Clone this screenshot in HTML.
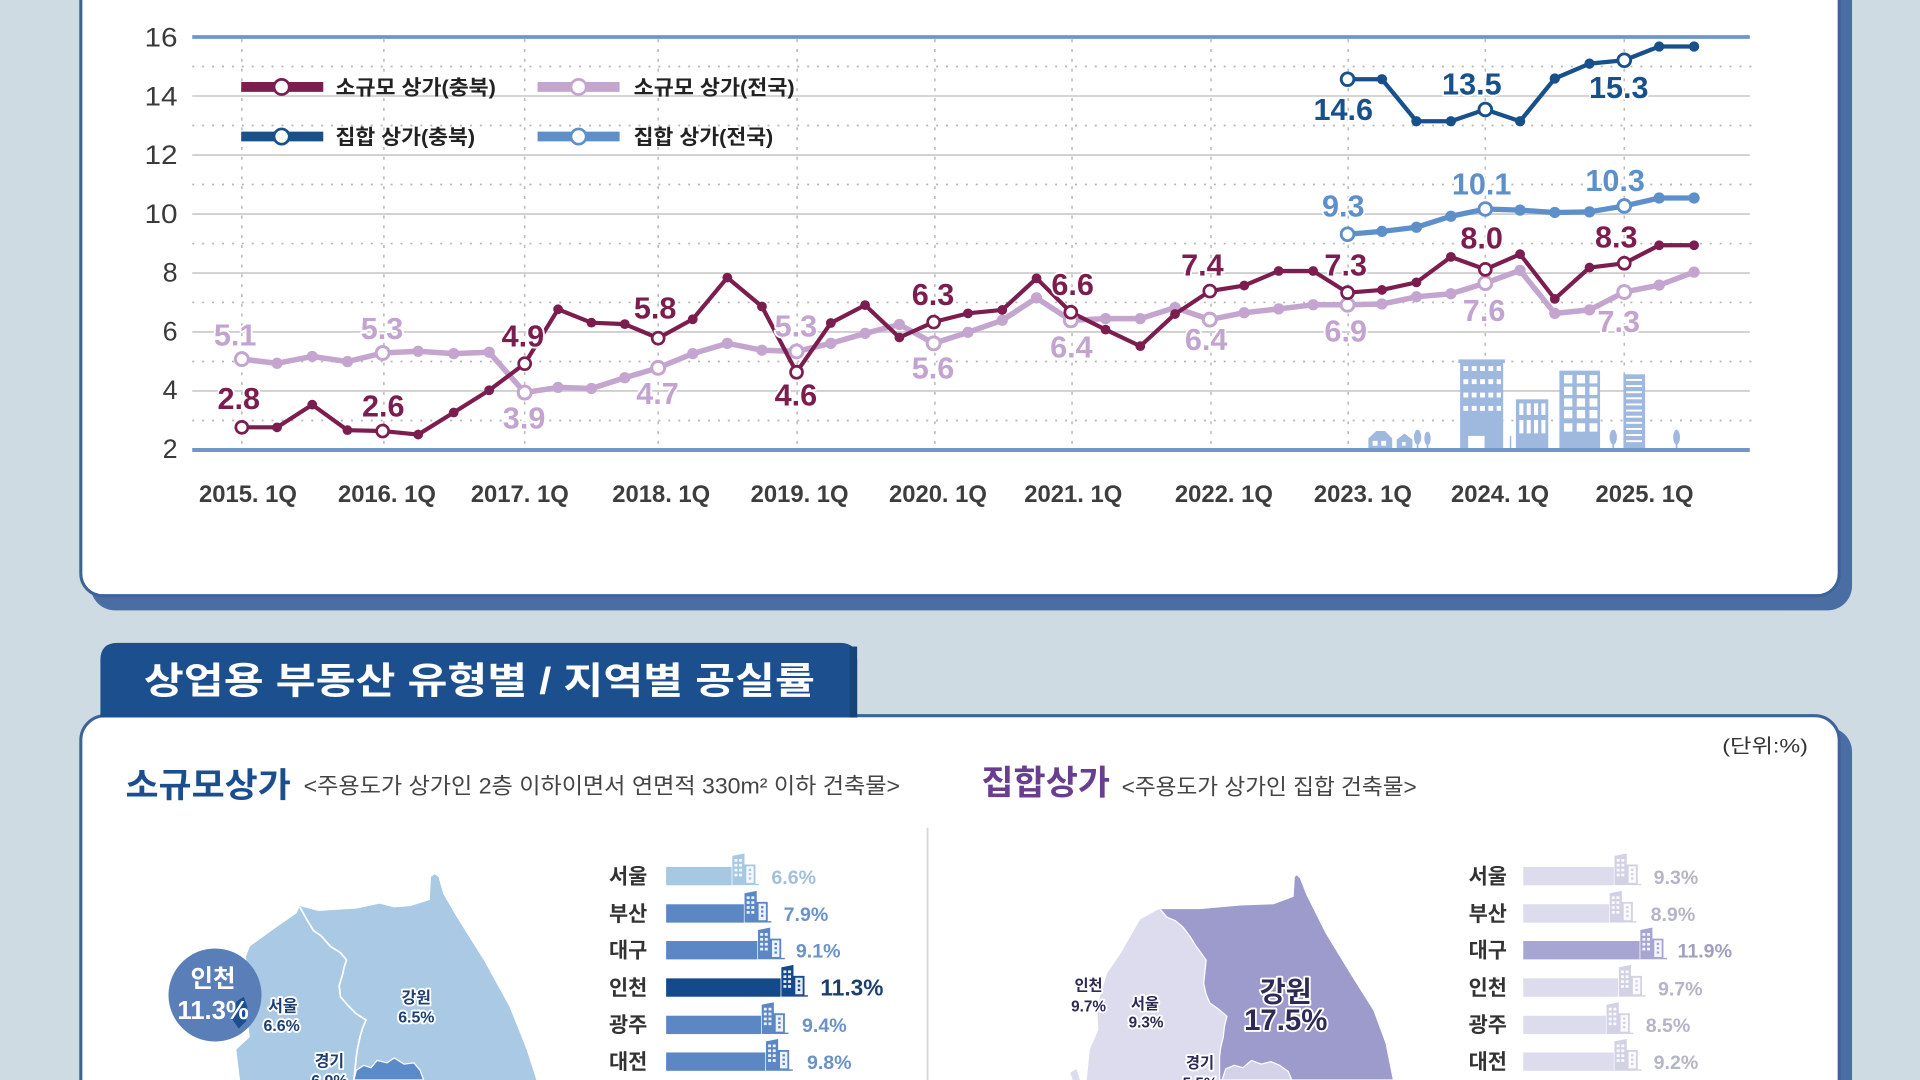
<!DOCTYPE html>
<html>
<head>
<meta charset="utf-8">
<style>
html,body{margin:0;padding:0;background:#cfdbe3;width:1920px;height:1080px;overflow:hidden;}
svg{display:block}
text{font-family:"Liberation Sans","Noto Sans CJK KR",sans-serif;}
.b{font-weight:bold}
.halo{paint-order:stroke;stroke:#fff;stroke-width:3;stroke-linejoin:round}
</style>
</head>
<body>
<svg width="1920" height="1080" viewBox="0 0 1568 882" xmlns="http://www.w3.org/2000/svg">
<defs>
  <marker id="mM" markerUnits="userSpaceOnUse" markerWidth="12" markerHeight="12" refX="6" refY="6" viewBox="0 0 12 12"><circle cx="6" cy="6" r="4" fill="#7b1d4e"/></marker>
  <marker id="mL" markerUnits="userSpaceOnUse" markerWidth="12" markerHeight="12" refX="6" refY="6" viewBox="0 0 12 12"><circle cx="6" cy="6" r="4.6" fill="#c3a5cf"/></marker>
  <marker id="mD" markerUnits="userSpaceOnUse" markerWidth="12" markerHeight="12" refX="6" refY="6" viewBox="0 0 12 12"><circle cx="6" cy="6" r="4.2" fill="#17508a"/></marker>
  <marker id="mB" markerUnits="userSpaceOnUse" markerWidth="12" markerHeight="12" refX="6" refY="6" viewBox="0 0 12 12"><circle cx="6" cy="6" r="4.6" fill="#5d8fca"/></marker>
  <symbol id="bld" viewBox="0 0 22 26">
    <path fill="currentColor" d="M0,2 L10,0 L10,26 L0,26Z M10,9 H19 V26 H10Z M0,24.8 H22 V26 H0Z"/>
    <g fill="#fff" opacity="0.9">
      <rect x="1.8" y="4.5" width="2.4" height="2.2"/><rect x="5.6" y="4.5" width="2.4" height="2.2"/>
      <rect x="1.8" y="8.5" width="2.4" height="2.2"/><rect x="5.6" y="8.5" width="2.4" height="2.2"/>
      <rect x="1.8" y="12.5" width="2.4" height="2.2"/><rect x="5.6" y="12.5" width="2.4" height="2.2"/>
      <rect x="1.8" y="16.5" width="2.4" height="2.2"/><rect x="5.6" y="16.5" width="2.4" height="2.2"/>
      <rect x="11.5" y="10.5" width="6" height="13.5"/>
    </g>
    <g fill="currentColor">
      <rect x="13.5" y="12.5" width="2" height="1.8"/><rect x="13.5" y="16" width="2" height="1.8"/><rect x="13.5" y="19.5" width="2" height="1.8"/>
    </g>
  </symbol>
</defs>

<!-- background -->
<rect x="0" y="0" width="1568" height="882" fill="#cfdbe3"/>

<!-- top card -->
<rect x="74" y="-30" width="1438.5" height="528.5" rx="20" fill="#4a6ea3"/>
<rect x="66" y="-30" width="1436" height="516.5" rx="18" fill="#fff" stroke="#3d6399" stroke-width="2.5"/>

<!-- gridlines -->
<g stroke="#cfcfcf" stroke-width="1.5">
  <line x1="157" y1="78.4" x2="1429" y2="78.4"/>
  <line x1="157" y1="126.6" x2="1429" y2="126.6"/>
  <line x1="157" y1="174.8" x2="1429" y2="174.8"/>
  <line x1="157" y1="223" x2="1429" y2="223"/>
  <line x1="157" y1="271.1" x2="1429" y2="271.1"/>
  <line x1="157" y1="319.3" x2="1429" y2="319.3"/>
</g>
<g stroke="#b5b5b5" stroke-width="1.4" stroke-dasharray="1.6 6.5">
  <line x1="157" y1="54.3" x2="1432" y2="54.3"/>
  <line x1="157" y1="102.5" x2="1432" y2="102.5"/>
  <line x1="157" y1="150.7" x2="1432" y2="150.7"/>
  <line x1="157" y1="198.9" x2="1432" y2="198.9"/>
  <line x1="157" y1="247" x2="1432" y2="247"/>
  <line x1="157" y1="295.2" x2="1432" y2="295.2"/>
  <line x1="157" y1="343.4" x2="1432" y2="343.4"/>
</g>
<g stroke="#bdbdbd" stroke-width="1.3" stroke-dasharray="2.5 5.5">
  <line x1="197.5" y1="32" x2="197.5" y2="366"/>
  <line x1="313.5" y1="32" x2="313.5" y2="366"/>
  <line x1="428.5" y1="32" x2="428.5" y2="366"/>
  <line x1="537.5" y1="32" x2="537.5" y2="366"/>
  <line x1="651" y1="32" x2="651" y2="366"/>
  <line x1="763.5" y1="32" x2="763.5" y2="366"/>
  <line x1="875.5" y1="32" x2="875.5" y2="366"/>
  <line x1="989" y1="32" x2="989" y2="366"/>
  <line x1="1101" y1="32" x2="1101" y2="366"/>
  <line x1="1213" y1="32" x2="1213" y2="366"/>
  <line x1="1326.5" y1="32" x2="1326.5" y2="366"/>
</g>

<!-- city silhouette -->
<g fill="#9fb8dd">
  <rect x="1192.4" y="296" width="35.2" height="72"/>
  <rect x="1191" y="293.5" width="38" height="3"/>
  <rect x="1238" y="326.1" width="26.4" height="42"/>
  <rect x="1273.5" y="302.7" width="33.2" height="65"/>
  <rect x="1325.8" y="305.7" width="17.7" height="62"/>
  <path d="M1117.5,367 V358 L1124,352 L1131,352 L1137,358 V367Z"/>
  <path d="M1140.6,367 V359 L1147,354 L1153.5,359 V367Z"/>
  <ellipse cx="1157.7" cy="357" rx="3" ry="6"/><rect x="1157" y="360" width="1.4" height="7"/>
  <ellipse cx="1165.8" cy="358" rx="2.6" ry="5.5"/><rect x="1165.1" y="361" width="1.4" height="6"/>
  <ellipse cx="1317.5" cy="357" rx="3" ry="6"/><rect x="1316.8" y="360" width="1.4" height="7"/>
  <ellipse cx="1369.2" cy="357" rx="2.8" ry="6"/><rect x="1368.5" y="360" width="1.4" height="7"/>
  <rect x="1233" y="356" width="1.2" height="11"/>
</g>
<g fill="#fff">
  <rect x="1195.1" y="299" width="4" height="4"/><rect x="1201.9" y="299" width="4" height="4"/><rect x="1208.7" y="299" width="4" height="4"/><rect x="1215.5" y="299" width="4" height="4"/><rect x="1222.3" y="299" width="3.5" height="4"/>
  <rect x="1195.1" y="309.7" width="4" height="4"/><rect x="1201.9" y="309.7" width="4" height="4"/><rect x="1208.7" y="309.7" width="4" height="4"/><rect x="1215.5" y="309.7" width="4" height="4"/><rect x="1222.3" y="309.7" width="3.5" height="4"/>
  <rect x="1195.1" y="320.6" width="4" height="4"/><rect x="1201.9" y="320.6" width="4" height="4"/><rect x="1208.7" y="320.6" width="4" height="4"/><rect x="1215.5" y="320.6" width="4" height="4"/><rect x="1222.3" y="320.6" width="3.5" height="4"/>
  <rect x="1195.1" y="331.5" width="4" height="4"/><rect x="1201.9" y="331.5" width="4" height="4"/><rect x="1208.7" y="331.5" width="4" height="4"/><rect x="1215.5" y="331.5" width="4" height="4"/><rect x="1222.3" y="331.5" width="3.5" height="4"/>
  <rect x="1199" y="356" width="13.4" height="11.5"/>
  <rect x="1240.8" y="329.4" width="3.3" height="9.5"/><rect x="1246.8" y="329.4" width="3.3" height="9.5"/><rect x="1252.8" y="329.4" width="3.3" height="9.5"/><rect x="1258.8" y="329.4" width="3.3" height="9.5"/>
  <rect x="1240.8" y="343" width="3.3" height="10.9"/><rect x="1246.8" y="343" width="3.3" height="10.9"/><rect x="1252.8" y="343" width="3.3" height="10.9"/><rect x="1258.8" y="343" width="3.3" height="10.9"/>
  <rect x="1277.3" y="306.3" width="6.8" height="6.8"/><rect x="1287.7" y="306.3" width="6.8" height="6.8"/><rect x="1298.1" y="306.3" width="6.4" height="6.8"/>
  <rect x="1277.3" y="315.8" width="6.8" height="6.8"/><rect x="1287.7" y="315.8" width="6.8" height="6.8"/><rect x="1298.1" y="315.8" width="6.4" height="6.8"/>
  <rect x="1277.3" y="325.3" width="6.8" height="6.8"/><rect x="1287.7" y="325.3" width="6.8" height="6.8"/><rect x="1298.1" y="325.3" width="6.4" height="6.8"/>
  <rect x="1277.3" y="334.8" width="6.8" height="6.8"/><rect x="1287.7" y="334.8" width="6.8" height="6.8"/><rect x="1298.1" y="334.8" width="6.4" height="6.8"/>
  <rect x="1277.3" y="345.7" width="6.8" height="6.8"/><rect x="1287.7" y="345.7" width="6.8" height="6.8"/><rect x="1298.1" y="345.7" width="6.4" height="6.8"/>
  <rect x="1328" y="309.5" width="13" height="1.6"/><rect x="1328" y="314.5" width="13" height="1.6"/><rect x="1328" y="319.5" width="13" height="1.6"/><rect x="1328" y="324.5" width="13" height="1.6"/><rect x="1328" y="329.5" width="13" height="1.6"/><rect x="1328" y="334.5" width="13" height="1.6"/><rect x="1328" y="339.5" width="13" height="1.6"/><rect x="1328" y="344.5" width="13" height="1.6"/><rect x="1328" y="349.5" width="13" height="1.6"/><rect x="1328" y="354.5" width="13" height="1.6"/><rect x="1328" y="359.5" width="13" height="1.6"/>
  <rect x="1121" y="360" width="4" height="4"/><rect x="1128" y="360" width="4" height="4"/><rect x="1145" y="361" width="3" height="3"/>
</g>

<!-- top & bottom axis lines -->
<line x1="157" y1="30.2" x2="1429" y2="30.2" stroke="#6f96c9" stroke-width="3"/>
<line x1="157" y1="367.5" x2="1429" y2="367.5" stroke="#6f96c9" stroke-width="3.2"/>

<!-- y labels -->
<g fill="#3a3a3a" font-size="22" text-anchor="end">
  <text x="145" y="38" textLength="27" lengthAdjust="spacingAndGlyphs">16</text>
  <text x="145" y="86" textLength="27" lengthAdjust="spacingAndGlyphs">14</text>
  <text x="145" y="134" textLength="27" lengthAdjust="spacingAndGlyphs">12</text>
  <text x="145" y="182" textLength="27" lengthAdjust="spacingAndGlyphs">10</text>
  <text x="145" y="230">8</text>
  <text x="145" y="278">6</text>
  <text x="145" y="326">4</text>
  <text x="145" y="374">2</text>
</g>

<!-- x labels -->
<g fill="#3d3d3d" font-size="20" class="b" text-anchor="middle">
  <text x="202.5" y="410" textLength="80" lengthAdjust="spacingAndGlyphs">2015. 1Q</text>
  <text x="316" y="410" textLength="80" lengthAdjust="spacingAndGlyphs">2016. 1Q</text>
  <text x="424.5" y="410" textLength="80" lengthAdjust="spacingAndGlyphs">2017. 1Q</text>
  <text x="540" y="410" textLength="80" lengthAdjust="spacingAndGlyphs">2018. 1Q</text>
  <text x="653" y="410" textLength="80" lengthAdjust="spacingAndGlyphs">2019. 1Q</text>
  <text x="766" y="410" textLength="80" lengthAdjust="spacingAndGlyphs">2020. 1Q</text>
  <text x="876.5" y="410" textLength="80" lengthAdjust="spacingAndGlyphs">2021. 1Q</text>
  <text x="999.5" y="410" textLength="80" lengthAdjust="spacingAndGlyphs">2022. 1Q</text>
  <text x="1113" y="410" textLength="80" lengthAdjust="spacingAndGlyphs">2023. 1Q</text>
  <text x="1225" y="410" textLength="80" lengthAdjust="spacingAndGlyphs">2024. 1Q</text>
  <text x="1343" y="410" textLength="80" lengthAdjust="spacingAndGlyphs">2025. 1Q</text>
</g>

<!-- legend -->
<g>
  <line x1="197" y1="71" x2="264" y2="71" stroke="#7b1d4e" stroke-width="8"/>
  <circle cx="230" cy="71" r="6.2" fill="#fff" stroke="#7b1d4e" stroke-width="2.2"/>
  <text x="274" y="77" font-size="16.5" class="b" fill="#222" textLength="131" lengthAdjust="spacingAndGlyphs">소규모 상가(충북)</text>
  <line x1="439" y1="71" x2="506" y2="71" stroke="#c3a5cf" stroke-width="8"/>
  <circle cx="472.5" cy="71" r="6.2" fill="#fff" stroke="#c3a5cf" stroke-width="2.2"/>
  <text x="517.5" y="77" font-size="16.5" class="b" fill="#222" textLength="131.5" lengthAdjust="spacingAndGlyphs">소규모 상가(전국)</text>
  <line x1="197" y1="111.5" x2="264" y2="111.5" stroke="#17508a" stroke-width="8"/>
  <circle cx="230" cy="111.5" r="6.2" fill="#fff" stroke="#17508a" stroke-width="2.2"/>
  <text x="274" y="117.5" font-size="16.5" class="b" fill="#222" textLength="114" lengthAdjust="spacingAndGlyphs">집합 상가(충북)</text>
  <line x1="439" y1="111.5" x2="506" y2="111.5" stroke="#5d8fca" stroke-width="8"/>
  <circle cx="472.5" cy="111.5" r="6.2" fill="#fff" stroke="#5d8fca" stroke-width="2.2"/>
  <text x="517.5" y="117.5" font-size="16.5" class="b" fill="#222" textLength="114" lengthAdjust="spacingAndGlyphs">집합 상가(전국)</text>
</g>

<!-- series: light purple (소규모 전국) -->
<polyline fill="none" stroke="#c3a5cf" stroke-width="4.5" stroke-linejoin="round" marker-start="url(#mL)" marker-mid="url(#mL)" marker-end="url(#mL)"
 points="197.5,293.3 226.25,296.7 255,291.1 283.75,295.3 312.5,288.3 341.5,286.9 370.5,288.8 399.5,287.7 428.5,320.6 455.75,316.4 483,317.3 510.25,308.5 537.5,300.4 565.75,288.8 594,280.4 622.25,286 650.5,287 678.5,280.4 706.5,272.3 734.5,265 762.5,280.4 790.5,271.4 818.5,261.6 846.5,243.3 874.5,261.6 902.9,260.2 931.25,260.2 959.6,251.2 988,261 1016.1,255.4 1044.25,252.3 1072.4,248.9 1100.5,248.9 1128.6,248.3 1156.75,242.4 1184.9,239.9 1213,231.2 1241.4,220.8 1269.75,255.9 1298.1,253.1 1326.5,238.5 1355,232.9 1383.5,222.2"/>
<!-- maroon (소규모 충북) -->
<polyline fill="none" stroke="#7b1d4e" stroke-width="3.4" stroke-linejoin="round" marker-start="url(#mM)" marker-mid="url(#mM)" marker-end="url(#mM)"
 points="197.5,349 226.25,349 255,330.5 283.75,351.3 312.5,352 341.5,354.9 370.5,336.9 399.5,318.7 428.5,297 455.75,252.6 483,263.5 510.25,264.7 537.5,276.2 565.75,260.7 594,226.7 622.25,250.3 650.5,304 678.5,263.8 706.5,249.2 734.5,275.6 762.5,263 790.5,255.9 818.5,253.1 846.5,227.3 874.5,255 902.9,269.2 931.25,282.7 959.6,256.5 988,237.7 1016.1,233.2 1044.25,221.3 1072.4,221.3 1100.5,239 1128.6,236.8 1156.75,230.6 1184.9,209.8 1213,220 1241.4,207.6 1269.75,244.1 1298.1,218.5 1326.5,215 1355,200.3 1383.5,200.3"/>
<!-- medium blue (집합 전국) -->
<polyline fill="none" stroke="#5d8fca" stroke-width="4.3" stroke-linejoin="round" marker-start="url(#mB)" marker-mid="url(#mB)" marker-end="url(#mB)"
 points="1100.5,191.3 1128.6,189 1156.75,185.6 1184.9,176.6 1213,170.7 1241.4,171.6 1269.75,173.5 1298.1,173 1326.5,168.2 1355,161.7 1383.5,161.7"/>
<!-- dark blue (집합 충북) -->
<polyline fill="none" stroke="#17508a" stroke-width="3.5" stroke-linejoin="round" marker-start="url(#mD)" marker-mid="url(#mD)" marker-end="url(#mD)"
 points="1100.5,64.7 1128.6,64.7 1156.75,99 1184.9,99 1213,89.4 1241.4,99 1269.75,64.1 1298.1,52 1326.5,49.2 1355,38 1383.5,38"/>

<!-- open markers -->
<g fill="#fff" stroke="#c3a5cf" stroke-width="2.4">
  <circle cx="197.5" cy="293.3" r="5.3"/><circle cx="312.5" cy="288.3" r="5.3"/><circle cx="428.5" cy="320.6" r="5.3"/><circle cx="537.5" cy="300.4" r="5.3"/><circle cx="650.5" cy="287" r="5.3"/><circle cx="762.5" cy="280.4" r="5.3"/><circle cx="874.5" cy="261.6" r="5.3"/><circle cx="988" cy="261" r="5.3"/><circle cx="1100.5" cy="248.9" r="5.3"/><circle cx="1213" cy="231.2" r="5.3"/><circle cx="1326.5" cy="238.5" r="5.3"/>
</g>
<g fill="#fff" stroke="#7b1d4e" stroke-width="2.2">
  <circle cx="197.5" cy="349" r="4.9"/><circle cx="312.5" cy="352" r="4.9"/><circle cx="428.5" cy="297" r="4.9"/><circle cx="537.5" cy="276.2" r="4.9"/><circle cx="650.5" cy="304" r="4.9"/><circle cx="762.5" cy="263" r="4.9"/><circle cx="874.5" cy="255" r="4.9"/><circle cx="988" cy="237.7" r="4.9"/><circle cx="1100.5" cy="239" r="4.9"/><circle cx="1213" cy="220" r="4.9"/><circle cx="1326.5" cy="215" r="4.9"/>
</g>
<g fill="#fff" stroke="#5d8fca" stroke-width="2.3">
  <circle cx="1100.5" cy="191.3" r="5.2"/><circle cx="1213" cy="170.7" r="5.2"/><circle cx="1326.5" cy="168.2" r="5.2"/>
</g>
<g fill="#fff" stroke="#17508a" stroke-width="2.3">
  <circle cx="1100.5" cy="64.7" r="5.2"/><circle cx="1213" cy="89.4" r="5.2"/><circle cx="1326.5" cy="49.2" r="5.2"/>
</g>

<!-- data labels -->
<g font-size="25" class="b halo" text-anchor="middle">
  <g fill="#7b1d4e">
    <text x="195" y="334">2.8</text><text x="313" y="340">2.6</text><text x="427" y="283">4.9</text><text x="535" y="260">5.8</text><text x="650" y="331">4.6</text><text x="762" y="249">6.3</text><text x="876" y="241">6.6</text><text x="982" y="225">7.4</text><text x="1099" y="225">7.3</text><text x="1210" y="203">8.0</text><text x="1320" y="202">8.3</text>
  </g>
  <g fill="#c3a3cf">
    <text x="192" y="282">5.1</text><text x="312" y="277">5.3</text><text x="428" y="350">3.9</text><text x="537" y="330">4.7</text><text x="650" y="275">5.3</text><text x="762" y="309">5.6</text><text x="875" y="292">6.4</text><text x="985" y="286">6.4</text><text x="1099" y="279">6.9</text><text x="1212" y="262">7.6</text><text x="1322" y="271">7.3</text>
  </g>
  <g fill="#17508a">
    <text x="1097" y="98">14.6</text><text x="1202" y="77">13.5</text><text x="1322" y="80">15.3</text>
  </g>
  <g fill="#5d8fca">
    <text x="1097" y="177">9.3</text><text x="1210" y="159">10.1</text><text x="1319" y="156">10.3</text>
  </g>
</g>

<!-- bottom card -->
<rect x="74" y="594" width="1438.5" height="320" rx="20" fill="#4a6ea3"/>
<rect x="66" y="584.5" width="1436" height="330" rx="20" fill="#fff" stroke="#3d6399" stroke-width="2.5"/>
<!-- tab -->
<path d="M82,586 V539 Q82,525 96,525 H686 Q700,525 700,539 V586 Z" fill="#1b4f8e"/>
<rect x="694" y="528" width="6" height="58" fill="#174478"/>
<text x="117.5" y="566.5" font-size="30" class="b" fill="#fff" textLength="548" lengthAdjust="spacingAndGlyphs">상업용 부동산 유형별 / 지역별 공실률</text>

<text x="1476.5" y="614.5" font-size="16" fill="#333" text-anchor="end" textLength="70" lengthAdjust="spacingAndGlyphs">(단위:%)</text>

<text x="102.5" y="651" font-size="28" class="b" fill="#1a4e8f" textLength="135" lengthAdjust="spacingAndGlyphs">소규모상가</text>
<text x="248" y="648" font-size="18" fill="#444" textLength="487" lengthAdjust="spacingAndGlyphs">&lt;주용도가 상가인 2층 이하이면서 연면적 330m² 이하 건축물&gt;</text>
<text x="801.5" y="649" font-size="28" class="b" fill="#6b3d8f" textLength="105" lengthAdjust="spacingAndGlyphs">집합상가</text>
<text x="916" y="649" font-size="18" fill="#444" textLength="241" lengthAdjust="spacingAndGlyphs">&lt;주용도가 상가인 집합 건축물&gt;</text>

<line x1="757.5" y1="676" x2="757.5" y2="882" stroke="#d8d8d8" stroke-width="1.5"/>

<!-- left map -->
<path d="M196,882 L193,857 L204,847 L202,830 L201,781 L204,773 L226,757 L242,746 L245,740 L260,744 L275,743 L291,742 L310,738 L322,741 L335,740 L351,735 L352,716 L355,714 L358,716 L362,730 L373,749 L395,784 L416,822 L430,857 L438,882 Z" fill="#a9c9e4"/>
<path d="M245,741 L250,750 L256,760 L262,764 L270,773 L278,778 L283,784 L281,790 L280,795 L277,805 L278,814 L285,822 L291,828 L299,833 L296,840 L294,847 L292,856 L291,863 L289,882" fill="none" stroke="#fff" stroke-width="1.4"/>
<path d="M289,882 L291,874 L297,870 L303,872 L308,866 L316,868 L322,864 L330,869 L338,868 L343,874 L346,882 Z" fill="#5b8acb" stroke="#fff" stroke-width="1"/>
<circle cx="175.6" cy="812.6" r="38" fill="#5a7fb8"/>
<path d="M193,818 L199,814 L202,822 L201,834 L195,840 L190,833 Z" fill="#1b4f8e"/>
<text x="174" y="806" font-size="20" class="b" fill="#fff" text-anchor="middle">인천</text>
<text x="174" y="832" font-size="21" class="b" fill="#fff" text-anchor="middle">11.3%</text>
<g font-size="13" class="b halo" fill="#1b3f70" text-anchor="middle">
  <text x="231" y="826">서울</text><text x="230" y="842">6.6%</text>
  <text x="340" y="819">강원</text><text x="340" y="835">6.5%</text>
  <text x="269" y="871">경기</text><text x="269" y="887">6.9%</text>
</g>

<!-- left bars -->
<g font-size="17" class="b" fill="#333" text-anchor="middle">
  <text x="513" y="721.5">서울</text><text x="513" y="752">부산</text><text x="513" y="782">대구</text><text x="513" y="812.5">인천</text><text x="513" y="843">광주</text><text x="513" y="873">대전</text>
</g>
<rect x="544" y="708" width="53.5" height="15" fill="#a7c8e3"/>
<rect x="544" y="738.5" width="63.5" height="15" fill="#5b88c5"/>
<rect x="544" y="768.5" width="74.5" height="15" fill="#5b88c5"/>
<rect x="544" y="799" width="93.5" height="15" fill="#14498c"/>
<rect x="544" y="829.5" width="77.5" height="15" fill="#5b88c5"/>
<rect x="544" y="859.5" width="81" height="15" fill="#5b88c5"/>
<use href="#bld" x="598" y="697" width="22" height="26" color="#a7c8e3"/>
<use href="#bld" x="608" y="727.5" width="22" height="26" color="#5b88c5"/>
<use href="#bld" x="619" y="757.5" width="22" height="26" color="#5b88c5"/>
<use href="#bld" x="638" y="788" width="22" height="26" color="#14498c"/>
<use href="#bld" x="622" y="818.5" width="22" height="26" color="#5b88c5"/>
<use href="#bld" x="625.5" y="848.5" width="22" height="26" color="#5b88c5"/>
<g font-size="16" class="b">
  <text x="630" y="722" fill="#a0c0dc">6.6%</text>
  <text x="640" y="752" fill="#6a92c8">7.9%</text>
  <text x="650" y="782" fill="#6a92c8">9.1%</text>
  <text x="670" y="813" font-size="18.5" fill="#1c3e6e">11.3%</text>
  <text x="655" y="843" fill="#6a92c8">9.4%</text>
  <text x="659" y="873" fill="#6a92c8">9.8%</text>
</g>

<!-- right map -->
<path d="M887.5,882 L890,857 L897,841 L896,822 L904,795 L915,779 L931,751 L947,742 L980,742 L1013,739 L1040,738 L1056,732 L1057,716 L1059,714 L1062,717 L1067,730 L1083,762 L1105,798 L1122,825 L1132,852 L1138,882 Z" fill="#dddcee"/>
<path d="M876,882 L874,876 L879,873 L882,882 Z" fill="#dddcee"/>
<path d="M947,742 L953,749 L960,752 L966,757 L972,765 L977,773 L985,784 L984,794 L983,803 L985,812 L988,819 L995,824 L1002,830 L1000,838 L999,847 L997,855 L996,863 L996,882 L1138,882 L1132,852 L1122,825 L1105,798 L1083,762 L1067,730 L1062,717 L1059,714 L1057,716 L1056,732 L1040,738 L1013,739 L980,742 Z" fill="#9d9bcb" stroke="#fff" stroke-width="1"/>
<path d="M998,882 L1001,873 L1008,870 L1015,872 L1022,866 L1030,869 L1038,867 L1045,870 L1052,875 L1055,882 Z" fill="#d3d2e8" stroke="#fff" stroke-width="1"/>
<g class="b halo" fill="#2d2a55" text-anchor="middle">
  <text x="889" y="809" font-size="12.5">인천</text><text x="889" y="826" font-size="12.5">9.7%</text>
  <text x="935" y="824" font-size="12.5">서울</text><text x="936" y="839" font-size="12.5">9.3%</text>
  <text x="1050" y="818" font-size="23">강원</text><text x="1050" y="841" font-size="24">17.5%</text>
  <text x="980" y="872" font-size="12.5">경기</text><text x="980" y="889" font-size="12.5">5.5%</text>
</g>

<!-- right bars -->
<g font-size="17" class="b" fill="#333" text-anchor="middle">
  <text x="1215" y="721.5">서울</text><text x="1215" y="752">부산</text><text x="1215" y="782">대구</text><text x="1215" y="812.5">인천</text><text x="1215" y="843">광주</text><text x="1215" y="873">대전</text>
</g>
<rect x="1244" y="708" width="74" height="15" fill="#dcdcec"/>
<rect x="1244" y="738.5" width="70" height="15" fill="#dcdcec"/>
<rect x="1244" y="768.5" width="95" height="15" fill="#a7a5d1"/>
<rect x="1244" y="799" width="77.5" height="15" fill="#dcdcec"/>
<rect x="1244" y="829.5" width="67.5" height="15" fill="#dcdcec"/>
<rect x="1244" y="859.5" width="74" height="15" fill="#dcdcec"/>
<use href="#bld" x="1318.5" y="697" width="22" height="26" color="#d2d2e4"/>
<use href="#bld" x="1314.5" y="727.5" width="22" height="26" color="#d2d2e4"/>
<use href="#bld" x="1339.5" y="757.5" width="22" height="26" color="#a7a5d1"/>
<use href="#bld" x="1322" y="788" width="22" height="26" color="#d2d2e4"/>
<use href="#bld" x="1312" y="818.5" width="22" height="26" color="#d2d2e4"/>
<use href="#bld" x="1318.5" y="848.5" width="22" height="26" color="#d2d2e4"/>
<g font-size="16" class="b" fill="#b5b5c8">
  <text x="1350.5" y="722">9.3%</text>
  <text x="1348" y="752">8.9%</text>
  <text x="1370" y="782" fill="#a09fc0">11.9%</text>
  <text x="1354" y="813">9.7%</text>
  <text x="1344" y="843">8.5%</text>
  <text x="1350.5" y="873">9.2%</text>
</g>
</svg>
</body>
</html>
